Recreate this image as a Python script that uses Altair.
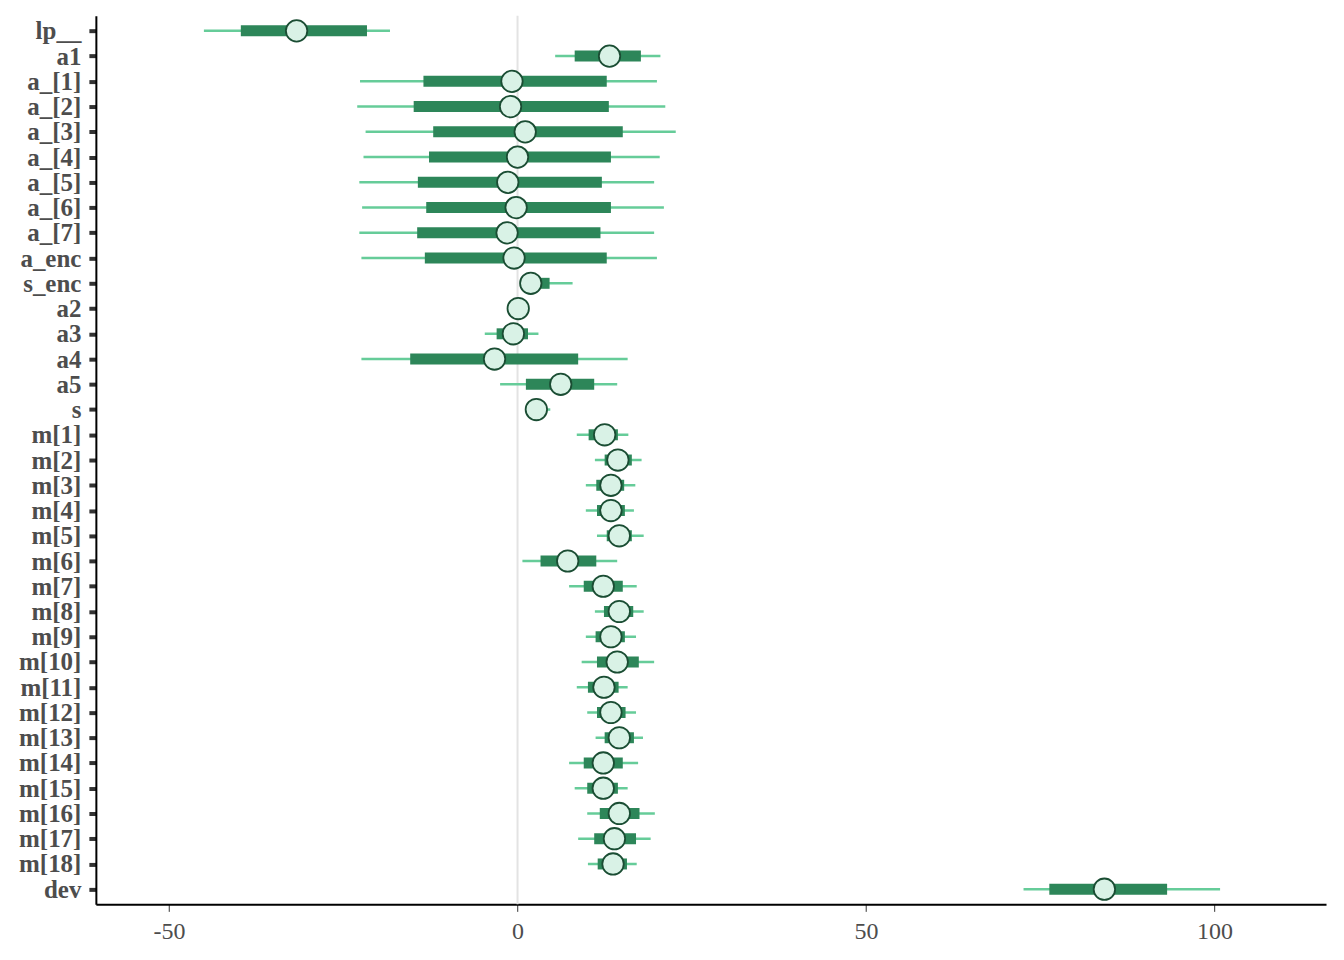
import altair as alt
import pandas as pd

params = ["lp__", "a1", "a_[1]", "a_[2]", "a_[3]", "a_[4]", "a_[5]", "a_[6]", "a_[7]",
          "a_enc", "s_enc", "a2", "a3", "a4", "a5", "s",
          "m[1]", "m[2]", "m[3]", "m[4]", "m[5]", "m[6]", "m[7]", "m[8]", "m[9]",
          "m[10]", "m[11]", "m[12]", "m[13]", "m[14]", "m[15]", "m[16]", "m[17]", "m[18]", "dev"]

ll = [-45.0, 5.4, -22.6, -23.0, -21.8, -22.1, -22.7, -22.3, -22.7,
      -22.4, 0.4, -1.0, -4.7, -22.4, -2.5, 1.2,
      8.5, 11.1, 9.8, 9.8, 11.4, 0.7, 7.4, 11.1, 9.8,
      9.2, 8.5, 10.0, 11.2, 7.4, 8.2, 10.0, 8.7, 10.1, 72.6]
l = [-39.7, 8.2, -13.5, -14.9, -12.1, -12.7, -14.3, -13.1, -14.4,
     -13.3, 0.9, -0.5, -3.0, -15.4, 1.2, 2.0,
     10.2, 12.5, 11.3, 11.4, 12.8, 3.3, 9.5, 12.4, 11.2,
     11.4, 10.1, 11.4, 12.5, 9.5, 10.0, 11.8, 11.0, 11.5, 76.3]
m = [-31.7, 13.2, -0.8, -1.0, 1.1, 0.0, -1.4, -0.2, -1.5,
     -0.5, 1.9, 0.1, -0.6, -3.3, 6.2, 2.7,
     12.5, 14.4, 13.4, 13.4, 14.6, 7.2, 12.3, 14.6, 13.4,
     14.3, 12.4, 13.4, 14.6, 12.3, 12.3, 14.6, 13.9, 13.7, 84.2]
h = [-21.6, 17.7, 12.8, 13.1, 15.1, 13.4, 12.1, 13.4, 11.9,
     12.8, 4.6, 0.6, 1.5, 8.7, 11.0, 3.5,
     14.4, 16.4, 15.3, 15.4, 16.4, 11.3, 15.1, 16.6, 15.4,
     17.4, 14.5, 15.5, 16.7, 15.1, 14.4, 17.5, 17.0, 15.7, 93.2]
hh = [-18.3, 20.5, 20.0, 21.2, 22.7, 20.4, 19.6, 21.0, 19.6,
      20.0, 7.9, 1.1, 3.0, 15.8, 14.3, 4.7,
      15.9, 17.8, 16.9, 16.7, 18.1, 14.3, 17.1, 18.1, 17.0,
      19.6, 15.8, 17.0, 18.0, 17.3, 15.8, 19.7, 19.1, 17.1, 100.8]

x_ticks = [-50, 0, 50, 100]

df = pd.DataFrame({"param": params, "ll": ll, "l": l, "m": m, "h": h, "hh": hh})

xscale = alt.Scale(domain=[-60.5, 116], nice=False, zero=False)
yscale = alt.Scale(type="point", padding=0.6, domain=params)

base = alt.Chart(df)

zero = alt.Chart(pd.DataFrame({"z": [0]})).mark_rule(color="#e3e3e3", strokeWidth=2).encode(
    x=alt.X("z:Q", scale=xscale)
)

y_enc = alt.Y(
    "param:N", scale=yscale, sort=params,
    axis=alt.Axis(
        title=None, labelFont="Liberation Serif", labelFontWeight="bold", labelFontSize=25,
        labelColor="#4d4d4d", tickColor="#333333", tickWidth=4, tickSize=7,
        domainColor="black", domainWidth=2, labelPadding=8, grid=False,
    ),
)
x_enc = alt.X(
    "ll:Q", scale=xscale,
    axis=alt.Axis(
        title=None, values=x_ticks, labelFont="Liberation Serif", labelFontSize=24,
        labelColor="#4d4d4d", tickColor="#333333", tickWidth=1, tickSize=7,
        domainColor="black", domainWidth=2, labelPadding=8, grid=False,
        labelExpr="'' + datum.value",
    ),
)

outer = base.mark_rule(color="#66cc99", strokeWidth=2.5).encode(x=x_enc, x2="hh:Q", y=y_enc)
inner = base.mark_rule(color="#2d8659", strokeWidth=11, strokeCap="butt").encode(
    x=alt.X("l:Q", scale=xscale), x2="h:Q", y=alt.Y("param:N", scale=yscale, sort=params)
)
pts = base.mark_point(filled=True, fill="#d9f2e6", stroke="#1a4d33", strokeWidth=1.8,
                      size=460, opacity=1, shape="circle").encode(
    x=alt.X("m:Q", scale=xscale), y=alt.Y("param:N", scale=yscale, sort=params)
)

chart = alt.layer(zero, outer, inner, pts).properties(
    width=1232, height=890,
    autosize=alt.AutoSizeParams(type="none"),
    padding={"left": 88, "top": 7, "right": 10, "bottom": 45},
    background="white",
).configure_view(stroke=None)

chart.save("out.html", embed_options={"renderer": "svg", "actions": False})
